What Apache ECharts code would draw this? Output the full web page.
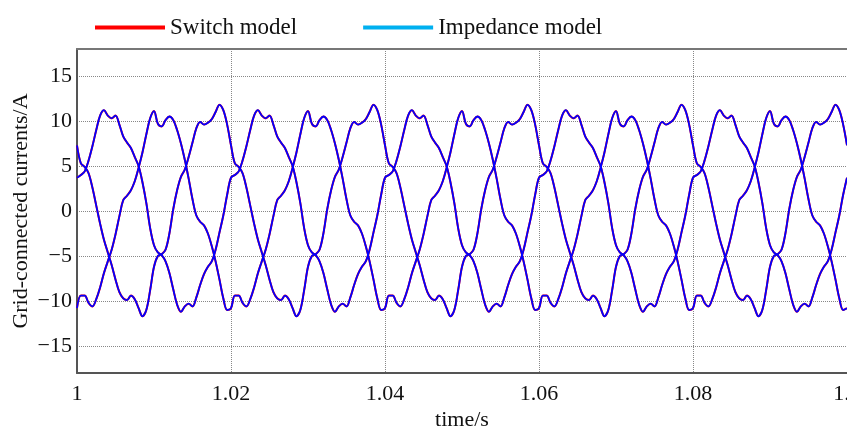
<!DOCTYPE html>
<html>
<head>
<meta charset="utf-8">
<script src="https://cdn.jsdelivr.net/npm/echarts@6/dist/echarts.min.js"></script>
<style>
html,body{margin:0;padding:0;background:#fff;}
#chart{width:847px;height:431px;}
</style>
</head>
<body>
<div id="chart"></div>
<script>
// Sample grid: 0.5 ms steps from 1.000 s to 1.100 s
const tStart = 1.0;
const tStep = 0.0005;

// Phase currents (A), one value per 0.5 ms
const phaseA = [
  7.3, 5.3, 4.9, 4.2, 2.6, 0.6, -1.4, -3.2, -4.6, -6.0, -7.6, -9.0, -9.7, -9.9, -9.4, -9.8, -10.8, -11.7, -11.0, -8.8, -6.2, -5.0, -4.8, -4.3, -2.5, 0.2, 2.3, 3.8, 4.6, 6.0, 7.6, 9.2, 9.9, 9.6, 9.8, 10.2, 11.0, 11.8, 11.2, 9.6,
  7.3, 5.3, 4.9, 4.2, 2.6, 0.6, -1.4, -3.2, -4.6, -6.0, -7.6, -9.0, -9.7, -9.9, -9.4, -9.8, -10.8, -11.7, -11.0, -8.8, -6.2, -5.0, -4.8, -4.3, -2.5, 0.2, 2.3, 3.8, 4.6, 6.0, 7.6, 9.2, 9.9, 9.6, 9.8, 10.2, 11.0, 11.8, 11.2, 9.6,
  7.3, 5.3, 4.9, 4.2, 2.6, 0.6, -1.4, -3.2, -4.6, -6.0, -7.6, -9.0, -9.7, -9.9, -9.4, -9.8, -10.8, -11.7, -11.0, -8.8, -6.2, -5.0, -4.8, -4.3, -2.5, 0.2, 2.3, 3.8, 4.6, 6.0, 7.6, 9.2, 9.9, 9.6, 9.8, 10.2, 11.0, 11.8, 11.2, 9.6,
  7.3, 5.3, 4.9, 4.2, 2.6, 0.6, -1.4, -3.2, -4.6, -6.0, -7.6, -9.0, -9.7, -9.9, -9.4, -9.8, -10.8, -11.7, -11.0, -8.8, -6.2, -5.0, -4.8, -4.3, -2.5, 0.2, 2.3, 3.8, 4.6, 6.0, 7.6, 9.2, 9.9, 9.6, 9.8, 10.2, 11.0, 11.8, 11.2, 9.6,
  7.3, 5.3, 4.9, 4.2, 2.6, 0.6, -1.4, -3.2, -4.6, -6.0, -7.6, -9.0, -9.7, -9.9, -9.4, -9.8, -10.8, -11.7, -11.0, -8.8, -6.2, -5.0, -4.8, -4.3, -2.5, 0.2, 2.3, 3.8, 4.6, 6.0, 7.6, 9.2, 9.9, 9.6, 9.8, 10.2, 11.0, 11.8, 11.2, 9.6,
  7.3
];
const phaseB = [
  3.7, 4.0, 4.4, 5.6, 7.2, 9.0, 10.6, 11.2, 10.6, 10.3, 10.6, 9.6, 8.3, 7.6, 7.0, 6.0, 5.0, 3.2, 0.9, -1.9, -3.8, -4.6, -4.9, -5.6, -6.9, -8.7, -10.4, -11.2, -10.6, -10.3, -10.6, -9.6, -8.2, -7.0, -6.2, -5.6, -4.3, -2.4, -0.5, 1.8,
  3.7, 4.0, 4.4, 5.6, 7.2, 9.0, 10.6, 11.2, 10.6, 10.3, 10.6, 9.6, 8.3, 7.6, 7.0, 6.0, 5.0, 3.2, 0.9, -1.9, -3.8, -4.6, -4.9, -5.6, -6.9, -8.7, -10.4, -11.2, -10.6, -10.3, -10.6, -9.6, -8.2, -7.0, -6.2, -5.6, -4.3, -2.4, -0.5, 1.8,
  3.7, 4.0, 4.4, 5.6, 7.2, 9.0, 10.6, 11.2, 10.6, 10.3, 10.6, 9.6, 8.3, 7.6, 7.0, 6.0, 5.0, 3.2, 0.9, -1.9, -3.8, -4.6, -4.9, -5.6, -6.9, -8.7, -10.4, -11.2, -10.6, -10.3, -10.6, -9.6, -8.2, -7.0, -6.2, -5.6, -4.3, -2.4, -0.5, 1.8,
  3.7, 4.0, 4.4, 5.6, 7.2, 9.0, 10.6, 11.2, 10.6, 10.3, 10.6, 9.6, 8.3, 7.6, 7.0, 6.0, 5.0, 3.2, 0.9, -1.9, -3.8, -4.6, -4.9, -5.6, -6.9, -8.7, -10.4, -11.2, -10.6, -10.3, -10.6, -9.6, -8.2, -7.0, -6.2, -5.6, -4.3, -2.4, -0.5, 1.8,
  3.7, 4.0, 4.4, 5.6, 7.2, 9.0, 10.6, 11.2, 10.6, 10.3, 10.6, 9.6, 8.3, 7.6, 7.0, 6.0, 5.0, 3.2, 0.9, -1.9, -3.8, -4.6, -4.9, -5.6, -6.9, -8.7, -10.4, -11.2, -10.6, -10.3, -10.6, -9.6, -8.2, -7.0, -6.2, -5.6, -4.3, -2.4, -0.5, 1.8,
  3.7
];
const phaseC = [
  -10.8, -9.4, -9.4, -10.2, -10.6, -9.8, -8.5, -6.9, -5.6, -4.3, -2.6, -0.6, 1.2, 1.7, 2.3, 3.3, 4.8, 6.5, 8.5, 10.3, 11.1, 9.7, 9.4, 10.1, 10.5, 10.1, 9.0, 7.5, 5.7, 3.6, 1.3, -0.5, -1.2, -1.6, -2.5, -3.9, -5.6, -7.6, -9.7, -11.0,
  -10.8, -9.4, -9.4, -10.2, -10.6, -9.8, -8.5, -6.9, -5.6, -4.3, -2.6, -0.6, 1.2, 1.7, 2.3, 3.3, 4.8, 6.5, 8.5, 10.3, 11.1, 9.7, 9.4, 10.1, 10.5, 10.1, 9.0, 7.5, 5.7, 3.6, 1.3, -0.5, -1.2, -1.6, -2.5, -3.9, -5.6, -7.6, -9.7, -11.0,
  -10.8, -9.4, -9.4, -10.2, -10.6, -9.8, -8.5, -6.9, -5.6, -4.3, -2.6, -0.6, 1.2, 1.7, 2.3, 3.3, 4.8, 6.5, 8.5, 10.3, 11.1, 9.7, 9.4, 10.1, 10.5, 10.1, 9.0, 7.5, 5.7, 3.6, 1.3, -0.5, -1.2, -1.6, -2.5, -3.9, -5.6, -7.6, -9.7, -11.0,
  -10.8, -9.4, -9.4, -10.2, -10.6, -9.8, -8.5, -6.9, -5.6, -4.3, -2.6, -0.6, 1.2, 1.7, 2.3, 3.3, 4.8, 6.5, 8.5, 10.3, 11.1, 9.7, 9.4, 10.1, 10.5, 10.1, 9.0, 7.5, 5.7, 3.6, 1.3, -0.5, -1.2, -1.6, -2.5, -3.9, -5.6, -7.6, -9.7, -11.0,
  -10.8, -9.4, -9.4, -10.2, -10.6, -9.8, -8.5, -6.9, -5.6, -4.3, -2.6, -0.6, 1.2, 1.7, 2.3, 3.3, 4.8, 6.5, 8.5, 10.3, 11.1, 9.7, 9.4, 10.1, 10.5, 10.1, 9.0, 7.5, 5.7, 3.6, 1.3, -0.5, -1.2, -1.6, -2.5, -3.9, -5.6, -7.6, -9.7, -11.0,
  -10.8
];

const seriesNames = ['Switch model', 'Impedance model'];
const xTickLabels = ['1', '1.02', '1.04', '1.06', '1.08', '1.1'];
const yTickLabels = ['−15', '−10', '−5', '0', '5', '10', '15'];

const FONT = 'Liberation Serif, Times New Roman, serif';

function pairs(vals) {
  return vals.map((v, i) => [tStart + i * tStep, v]);
}

function makeSeries(name, color, width, z) {
  return [phaseA, phaseB, phaseC].map(arr => ({
    name: name,
    type: 'line',
    data: pairs(arr),
    symbol: 'none',
    smooth: 0.35,
    z: z,
    clip: true,
    lineStyle: { color: color, width: width },
    itemStyle: { color: color },
    emphasis: { disabled: true },
    animation: false
  }));
}

const chart = echarts.init(document.getElementById('chart'), null, { renderer: 'canvas' });
chart.setOption({
  animation: false,
  backgroundColor: '#ffffff',
  grid: { left: 77, right: 0, top: 49, bottom: 58, containLabel: false, outerBoundsMode: 'none' },
  legend: {
    top: 11,
    left: 90,
    itemWidth: 70,
    itemHeight: 4,
    itemGap: 66,
    icon: 'rect',
    textStyle: { fontFamily: FONT, fontSize: 23, color: '#111' },
    data: [
      { name: seriesNames[0], itemStyle: { color: '#ff0000' } },
      { name: seriesNames[1], itemStyle: { color: '#00b0f0' } }
    ]
  },
  xAxis: [{
    type: 'value',
    min: 1,
    max: 1.1,
    interval: 0.02,
    name: 'time/s',
    nameLocation: 'middle',
    nameGap: 36,
    nameMoveOverlap: false,
    nameTextStyle: { fontFamily: FONT, fontSize: 22, color: '#111' },
    axisLine: { show: true, onZero: false, lineStyle: { color: '#555', width: 2 } },
    axisTick: { show: false },
    axisLabel: {
      fontFamily: FONT, fontSize: 22, color: '#111', margin: 10,
      formatter: function (v) {
        const k = Math.round((v - 1) / 0.02);
        return xTickLabels[k] !== undefined ? xTickLabels[k] : '';
      }
    },
    splitLine: { show: true, lineStyle: { color: '#888', type: 'dotted', width: 1 } }
  }, {
    type: 'value',
    position: 'top',
    min: 1,
    max: 1.1,
    interval: 0.02,
    axisLine: { show: true, onZero: false, lineStyle: { color: '#777', width: 2 } },
    axisTick: { show: false },
    axisLabel: { show: false },
    splitLine: { show: false }
  }],
  yAxis: {
    type: 'value',
    min: -18,
    max: 18,
    splitNumber: 7,
    name: 'Grid-connected currents/A',
    nameLocation: 'middle',
    nameGap: 45,
    nameMoveOverlap: false,
    nameTextStyle: { fontFamily: FONT, fontSize: 22, color: '#111' },
    axisLine: { show: true, onZero: false, lineStyle: { color: '#555', width: 2 } },
    axisTick: { show: false },
    axisLabel: {
      fontFamily: FONT, fontSize: 22, color: '#111', margin: 5,
      formatter: function (v) {
        const k = Math.round(v / 5) + 3;
        if (Math.abs(v - Math.round(v / 5) * 5) > 1e-6) return '';
        return yTickLabels[k] !== undefined ? yTickLabels[k] : '';
      }
    },
    splitLine: {
      show: true,
      lineStyle: { color: '#888', type: 'dotted', width: 1 }
    }
  },
  series: [].concat(
    makeSeries(seriesNames[0], '#ff0000', 2.0, 2),
    makeSeries(seriesNames[1], '#0000ff', 1.8, 3)
  )
});
</script>
</body>
</html>
